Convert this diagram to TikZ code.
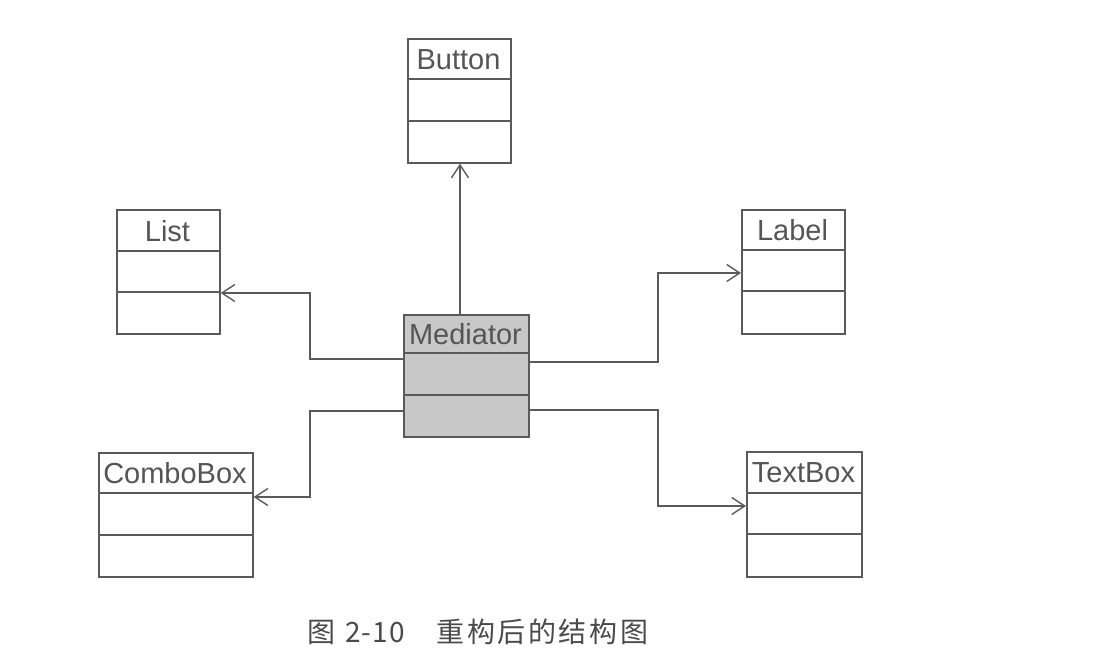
\documentclass[tikz,border=0pt]{standalone}
\usepackage{fontspec}
\setmainfont{Liberation Sans}
\newfontfamily\cjk[LetterSpace=9]{Noto Sans CJK SC}
\newfontfamily\cjknum[LetterSpace=4]{Noto Sans CJK SC}
\usetikzlibrary{arrows.meta}
\definecolor{ln}{HTML}{5A5A5A}
\definecolor{txt}{HTML}{555555}
\definecolor{medfill}{HTML}{C8C8C8}
\definecolor{capc}{HTML}{4A4A4A}
\newcommand\umlclass[9]{% name, x1, y1, x2, y2, d1, d2, title, fill
  \node[cls, fill=#9, anchor=north west, minimum width={#4-#2}, minimum height={#5-#3}] (#1) at (#2,#3) {};
  \draw[divider] (#2,#6) -- (#4,#6);
  \draw[divider] (#2,#7) -- (#4,#7);
  \node[ttl] (#1title) at ({(#2+#4)/2},{(#3+#6)/2+1}) {#8};
}
\begin{document}
\begin{tikzpicture}[x=1pt,y=-1pt,
  cls/.style={draw=ln, line width=1.6pt, rectangle, inner sep=0pt},
  divider/.style={draw=ln, line width=1.5pt},
  conn/.style={draw=ln, line width=1.4pt, -{Straight Barb[length=13pt,width=17pt,line width=1.4pt]}},
  ttl/.style={text=txt, inner sep=0pt, font=\fontsize{29}{32}\selectfont}]
\useasboundingbox (0,0) rectangle (1108,660);

\umlclass{button}{407}{38}{510}{162}{79}{121}{Button}{white}
\umlclass{list}{116}{209}{219}{333}{251}{292}{List}{white}
\umlclass{label}{741}{209}{844}{333}{250}{291}{Label}{white}
\umlclass{med}{403}{314}{528}{436}{353}{395}{Mediator}{medfill}
\umlclass{combo}{98}{452}{252}{576}{493}{535}{ComboBox}{white}
\umlclass{textbox}{746}{451}{861}{576}{493}{534}{TextBox}{white}

\draw[conn] (460,314) -- (button.south -| 460,0);
\draw[conn] (med.west |- 0,359) -- (310,359) |- (list.east |- 0,293);
\draw[conn] (med.east |- 0,362) -- (658,362) |- (label.west |- 0,273);
\draw[conn] (med.west |- 0,411) -- (310,411) |- (combo.east |- 0,497);
\draw[conn] (med.east |- 0,410) -- (658,410) |- (textbox.west |- 0,506);

\node[text=capc, anchor=west, inner sep=0pt, font=\fontsize{28}{28}\selectfont] (cap) at (307,632) {{\cjk 图}\hspace{10pt}{\cjknum 2-10}\hspace{32pt}{\cjk 重构后的结构图}};
\end{tikzpicture}
\end{document}
